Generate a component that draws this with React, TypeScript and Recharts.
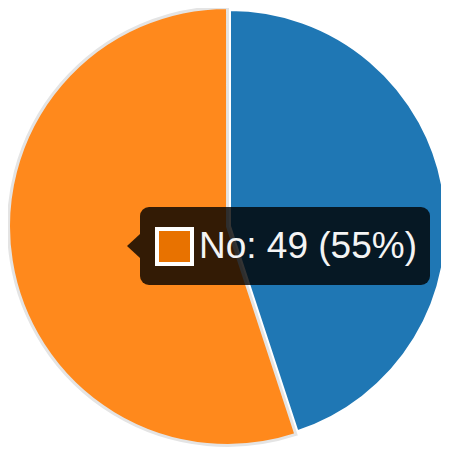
import React from "react";
import { PieChart, Pie, Cell, Tooltip, Sector } from "recharts";

const categories = ["Yes", "No"];
const counts = [40, 49];
const colors = ["#1f77b4", "#ff891c"];

const data = categories.map((name, i) => ({ name, value: counts[i] }));
const total = counts.reduce((a, b) => a + b, 0);

const ActiveShape = (props: any) => {
  const { cx, cy, innerRadius, outerRadius, startAngle, endAngle, fill, midAngle } = props;
  const rad = (Math.PI / 180) * midAngle;
  const off = 2.5;
  return (
    <Sector
      cx={cx + Math.cos(rad) * off}
      cy={cy - Math.sin(rad) * off}
      innerRadius={innerRadius}
      outerRadius={outerRadius + 3}
      startAngle={startAngle}
      endAngle={endAngle}
      fill={fill}
      stroke="#e4e4e4"
      strokeWidth={3}
    />
  );
};

const TipContent = (props: any) => {
  const { payload } = props;
  if (!payload || !payload.length) return null;
  const p = payload[0];
  const idx = categories.indexOf(p.name);
  const pct = Math.round((p.value / total) * 100);
  return (
    <div style={{ position: "relative", paddingLeft: 13 }}>
      <div
        style={{
          position: "absolute",
          left: 0,
          top: 27,
          width: 0,
          height: 0,
          borderTop: "12px solid transparent",
          borderBottom: "12px solid transparent",
          borderRight: "13px solid rgba(0,0,0,0.8)",
        }}
      />
      <div
        style={{
          background: "rgba(0,0,0,0.8)",
          borderRadius: 9,
          height: 78,
          width: 290,
          boxSizing: "border-box",
          paddingLeft: 15,
          display: "flex",
          alignItems: "center",
          fontFamily: "'Liberation Sans', Arial, sans-serif",
          fontSize: 37,
          color: "#f4f4f4",
          whiteSpace: "nowrap",
        }}
      >
        <div
          style={{
            width: 39,
            height: 39,
            boxSizing: "border-box",
            border: "4px solid #ffffff",
            background: idx === 1 ? "#e87200" : colors[idx],
            marginRight: 5,
            flex: "none",
          }}
        />
        <span>{`${p.name}: ${p.value} (${pct}%)`}</span>
      </div>
    </div>
  );
};

export default function App() {
  return (
    <PieChart width={441} height={443} margin={{ top: 0, right: 0, bottom: 0, left: 0 }}>
      <Pie
        data={data}
        dataKey="value"
        nameKey="name"
        cx={222}
        cy={218}
        outerRadius={216}
        startAngle={90}
        endAngle={-270}
        stroke="#ffffff"
        strokeWidth={2}
        isAnimationActive={false}
        activeShape={ActiveShape}
      >
        {data.map((d, i) => (
          <Cell key={d.name} fill={colors[i]} />
        ))}
      </Pie>
      <Tooltip
        active
        defaultIndex={1}
        cursor={false}
        isAnimationActive={false}
        position={{ x: 119, y: 199 }}
        content={<TipContent />}
        wrapperStyle={{ outline: "none" }}
      />
    </PieChart>
  );
}
